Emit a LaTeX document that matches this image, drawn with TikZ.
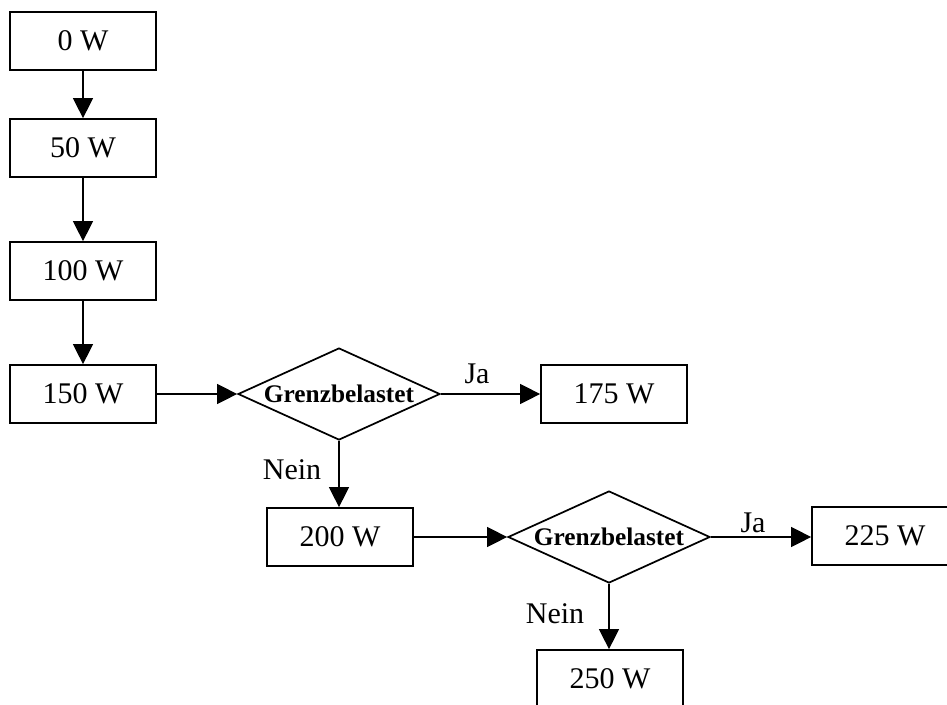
\documentclass[tikz,border=0pt]{standalone}
\usepackage{fontspec}
\setmainfont{Liberation Serif}
\usetikzlibrary{shapes.geometric,arrows.meta}

\begin{document}
\begin{tikzpicture}[x=0.75pt,y=-0.75pt,
  box/.style={draw, line width=1.3pt, minimum width=109.5pt, minimum height=43.5pt,
    inner sep=0pt, font=\fontsize{22.5}{27}\selectfont},
  test/.style={draw, diamond, line width=1.3pt, minimum width=151.5pt, minimum height=69pt,
    inner sep=0pt, font=\fontsize{19}{23}\selectfont\bfseries},
  lbl/.style={inner sep=0pt, font=\fontsize{22.5}{27}\selectfont},
  flow/.style={line width=1pt, -{Triangle[length=15pt,width=15pt]}}]
\useasboundingbox (0,0) rectangle (947,704);
\clip (0,0) rectangle (947,704);

% power steps
\node[box] (b0)   at (83,41)   {0 W};
\node[box] (b50)  at (83,148)  {50 W};
\node[box] (b100) at (83,271)  {100 W};
\node[box] (b150) at (83,394)  {150 W};
\node[box] (b175) at (614,394) {175 W};
\node[box] (b200) at (340,537) {200 W};
\node[box] (b225) at (885,536) {225 W};
\node[box] (b250) at (610,679) {250 W};

% decisions
\node[test] (d1) at (339,394) {\makebox[0pt]{Grenzbelastet}};
\node[test] (d2) at (609,537) {\makebox[0pt]{Grenzbelastet}};

% connectors
\draw[flow] (b0) -- (b50);
\draw[flow] (b50) -- (b100);
\draw[flow] (b100) -- (b150);
\draw[flow] (b150) -- (d1);
\draw[flow] (d1) -- (b175);
\draw[flow] (d1.south) -- (d1.south |- b200.north);
\draw[flow] (b200) -- (d2);
\draw[flow] (d2.east) -- (d2.east -| b225.west);
\draw[flow] (d2.south) -- (d2.south |- b250.north);

% branch labels
\node[lbl] (ja1)   at (477,374) {Ja};
\node[lbl] (nein1) at (292,470) {Nein};
\node[lbl] (ja2)   at (753,523) {Ja};
\node[lbl] (nein2) at (555,614) {Nein};
\end{tikzpicture}
\end{document}
